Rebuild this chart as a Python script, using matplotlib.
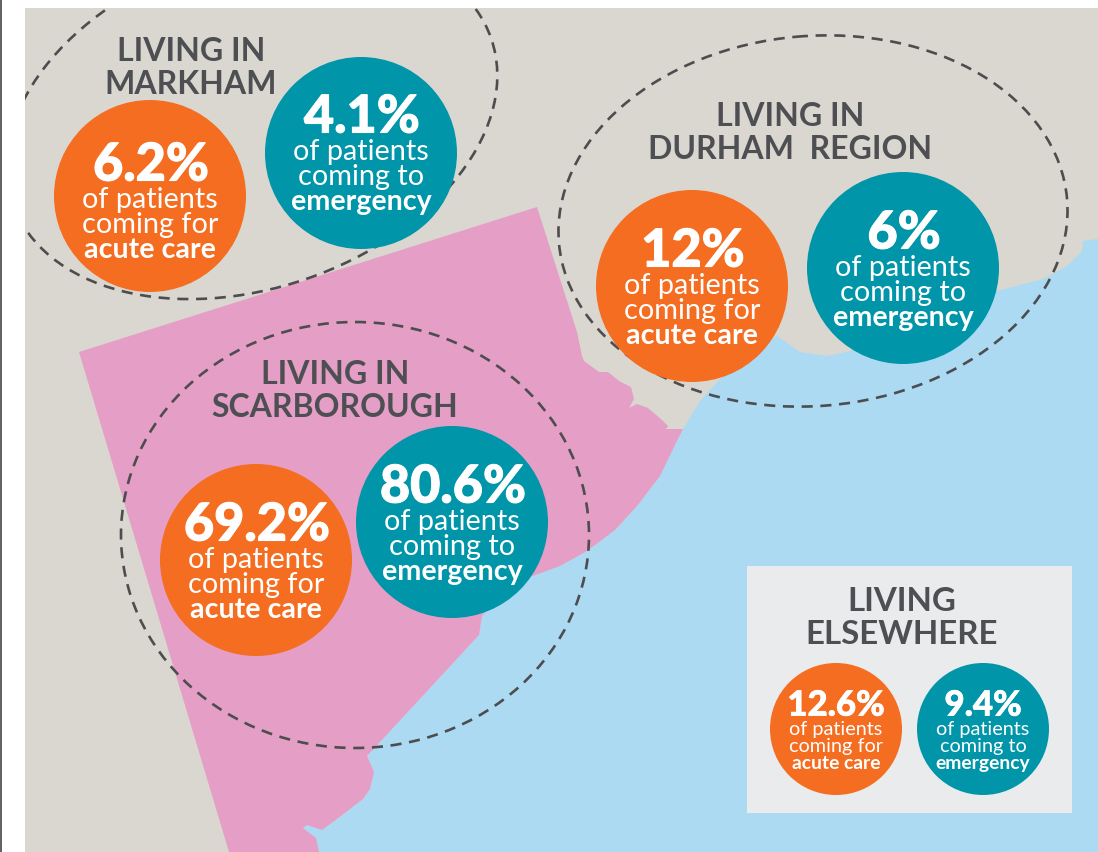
import matplotlib
matplotlib.use("Agg")
import matplotlib.pyplot as plt
from matplotlib.patches import Polygon, Circle, Ellipse, Rectangle
from matplotlib.lines import Line2D
import matplotlib.patheffects as pe

plt.rcParams['font.family'] = ['Lato', 'DejaVu Sans']

# ---- data ----
regions = ["LIVING IN\nMARKHAM", "LIVING IN\nDURHAM  REGION", "LIVING IN\nSCARBOROUGH", "LIVING\nELSEWHERE"]
acute_care = ["6.2%", "12%", "69.2%", "12.6%"]
emergency = ["4.1%", "6%", "80.6%", "9.4%"]
acute_lines = ["of patients", "coming for", "acute care"]
emerg_lines = ["of patients", "coming to", "emergency"]

# layout (reference pixels)
title_xy = [(191, 68), (790, 133), (335, 391), (902, 618)]
acute_xy = [(150, 197), (692, 287), (256, 561), (836, 730)]
emerg_xy = [(361, 154), (903, 269), (452, 523), (983, 730)]
acute_shift = [4, 0, 0, 0]
emerg_shift = [-1, 0, 0, 0]
bubble_r = [96, 96, 96, 66]
halos = [((252, 122), 253, 167, -19), ((813, 222), 255, 185, -5), ((355, 536), 234, 213, 0)]

coast = [(683, 430), (673, 450), (660, 477), (637, 507), (615, 531), (587, 552), (560, 567), (530, 578),
         (500, 595), (482, 617), (479, 636),
         (367, 757), (374, 773), (370, 790), (363, 800), (337, 820), (322, 831), (307, 826), (303, 829),
         (316, 839), (319, 853)]
sea_outline = [(1098, 240), (1083, 242), (1082, 252), (1067, 267), (1043, 280), (997, 292), (930, 320), (860, 348),
               (850, 352), (827, 357), (800, 353), (777, 337), (750, 355), (720, 380), (700, 402)] + coast + [(1098, 853)]
pink_outline = [(537, 208), (577, 333), (582, 357), (584, 362), (599, 373), (608, 373), (619, 382), (631, 388),
                (634, 400), (629, 409), (637, 405), (648, 409), (662, 421), (668, 427), (666, 430)] + coast + [(229, 853), (79, 353)]

ORANGE, TEAL = "#F46D21", "#0095A8"
BEIGE, PINK, SEA, BOX = "#DAD7D0", "#E59EC6", "#ABDAF2", "#E9EBED"
DARK = "#4D4F53"

fig = plt.figure(figsize=(10.98, 8.53), dpi=100, facecolor="white")
ax = fig.add_axes([0, 0, 1, 1])
ax.set_xlim(0, 1098)
ax.set_ylim(853, 0)
ax.axis("off")

ax.add_line(Line2D([0.5, 0.5], [0, 853], color="#444444", lw=1.2, zorder=1))
land = Rectangle((25, 9), 1073, 844, fc=BEIGE, ec="none", zorder=1)
ax.add_patch(land)
ax.add_patch(Polygon(sea_outline, closed=True, fc=SEA, ec="none", zorder=2))
ax.add_patch(Polygon(pink_outline, closed=True, fc=PINK, ec="none", zorder=3))
ax.add_patch(Rectangle((747, 567), 325, 247, fc=BOX, ec="none", zorder=4))

for (c, a, b, ang) in halos:
    e = Ellipse(c, 2 * a, 2 * b, angle=ang, fc="none", ec="#4D4D4F", lw=1.9,
                linestyle=(0, (4.2, 2.9)), zorder=5)
    ax.add_patch(e)
    e.set_clip_path(land)


def bubble(xy, r, color, pct, lines, big, shift):
    x, y = xy
    ax.add_patch(Circle(xy, r, fc=color, ec="none", zorder=6))
    k = r / 96
    fs_pct = 37.5 if big else 25
    fs_txt = 20.8 if big else 14.3
    fs_bold = 20.6 if big else 13.9
    ax.text(x + (1 if big else 0), y - 34 * k + shift, pct, color="white", fontsize=fs_pct, fontweight="black",
            ha="center", va="center", zorder=7,
            path_effects=[pe.withStroke(linewidth=0.8 if big else 0.5, foreground="white")])
    for i, (t, dy) in enumerate(zip(lines, (0, 25, 50))):
        ax.text(x, y + dy * k - 1 + shift, t, color="white", fontsize=fs_bold if i == 2 else fs_txt,
                fontweight="bold" if i == 2 else "normal", ha="center", va="center", zorder=7)


for i, region in enumerate(regions):
    big = i < 3
    ax.text(*title_xy[i], region, color=DARK, fontsize=23 if big else 23.8, fontweight="bold",
            ha="center", va="center", linespacing=1.14, zorder=8, multialignment="center")
    bubble(acute_xy[i], bubble_r[i], ORANGE, acute_care[i], acute_lines, big, acute_shift[i])
    bubble(emerg_xy[i], bubble_r[i], TEAL, emergency[i], emerg_lines, big, emerg_shift[i])

fig.savefig("out.png", dpi=100, facecolor="white")
